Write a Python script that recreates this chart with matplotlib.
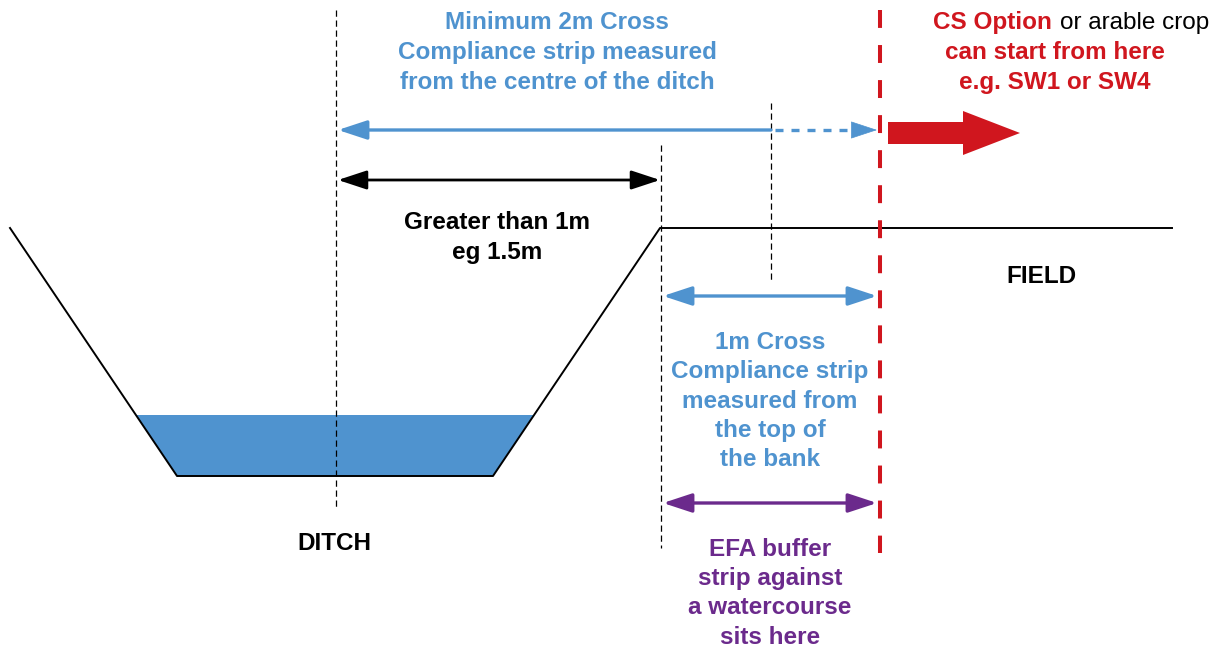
import matplotlib.pyplot as plt
from matplotlib.patches import Polygon, FancyArrow

plt.rcParams['font.family'] = ['Liberation Sans', 'DejaVu Sans']

BLUE = "#4f93cf"
RED = "#d0161e"
PURPLE = "#6b2a8c"

# ditch profile (pixel coords, y down)
bank_x = [10, 177, 493, 660, 1172]
bank_y = [228, 476, 476, 228, 228]
water_x = [136, 177, 493, 534]
water_y = [415, 476, 476, 415]

# guide lines: x, y top, y bottom
guides = [(336, 10, 510), (661, 145, 548), (771, 103, 280)]
red_line = (880, 10, 553)

# text blocks
top_lines = ["Minimum 2m Cross", "Compliance strip measured", "from the centre of the ditch"]
gt_lines = ["Greater than 1m", "eg 1.5m"]
cc_lines = ["1m Cross", "Compliance strip", "measured from", "the top of", "the bank"]
efa_lines = ["EFA buffer", "strip against", "a watercourse", "sits here"]
red_lines = ["can start from here", "e.g. SW1 or SW4"]

fig = plt.figure(figsize=(12.27, 6.51), dpi=100)
ax = fig.add_axes([0, 0, 1, 1])
ax.set_xlim(0, 1227)
ax.set_ylim(651, 0)
ax.axis("off")

ax.add_patch(Polygon(list(zip(water_x, water_y)), closed=True, fc=BLUE, ec="none", zorder=1))
ax.plot(bank_x, bank_y, color="black", lw=1.4, zorder=2)

for gx, y0, y1 in guides:
    ax.plot([gx, gx], [y0, y1], color="black", lw=0.9, linestyle=(0, (5, 3)), zorder=3)
ax.plot([red_line[0]] * 2, red_line[1:], color=RED, lw=2.9, linestyle=(0, (4.45, 4.25)), zorder=4)

HEAD = "head_length=0.88,head_width=0.29"


def dbl_arrow(x0, x1, y, color, lw):
    ax.annotate("", xy=(x1, y), xytext=(x0, y),
                arrowprops=dict(arrowstyle="<|-|>," + HEAD, color=color, lw=lw,
                                shrinkA=0, shrinkB=0, mutation_scale=20), zorder=5)


# top blue arrow: solid part + dashed extension
ax.annotate("", xy=(338, 130), xytext=(771, 130),
            arrowprops=dict(arrowstyle="-|>," + HEAD, color=BLUE, lw=2.4,
                            shrinkA=0, shrinkB=0, mutation_scale=20), zorder=5)
ax.plot([775, 856], [130, 130], color=BLUE, lw=2.4, linestyle=(0, (2.4, 2.4)), zorder=5)
ax.annotate("", xy=(877, 130), xytext=(858, 130),
            arrowprops=dict(arrowstyle="-|>," + HEAD, color=BLUE, lw=0.5,
                            shrinkA=0, shrinkB=0, mutation_scale=20), zorder=5)

dbl_arrow(338, 660, 180, "black", 2.0)
dbl_arrow(663, 877, 296, BLUE, 2.4)
dbl_arrow(663, 877, 503, PURPLE, 2.4)

# big red arrow
ax.add_patch(FancyArrow(888, 133, 132, 0, width=22, head_width=44, head_length=57,
                        length_includes_head=True, fc=RED, ec="none", zorder=5))

fs = 17.5
OFF = 2.5


def block(lines, x, y0, dy, color):
    for i, s in enumerate(lines):
        ax.text(x, y0 + OFF + i * dy, s, color=color, fontsize=fs, fontweight="bold",
                ha="center", va="center")


block(top_lines, 557, 20, 30, BLUE)
block(gt_lines, 497, 220, 30, "black")
block(["DITCH"], 334, 541, 30, "black")
block(["FIELD"], 1041, 274, 30, "black")
block(cc_lines, 770, 340, 29.3, BLUE)
block(efa_lines, 770, 547, 29.2, PURPLE)
block(red_lines, 1055, 50, 30, RED)

ax.text(1052, 20 + OFF, "CS Option", color=RED, fontsize=fs, fontweight="bold", ha="right", va="center")
ax.text(1060, 20 + OFF, "or arable crop", color="black", fontsize=fs, ha="left", va="center")

fig.savefig("out.png", dpi=100)
